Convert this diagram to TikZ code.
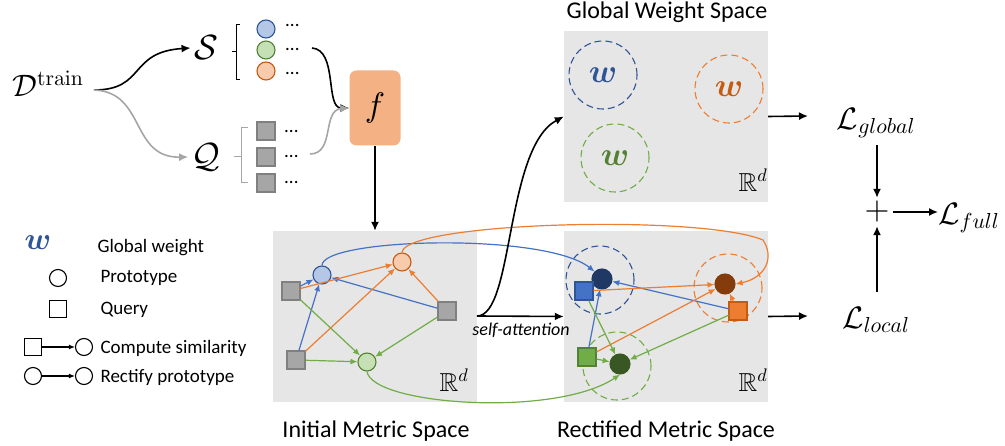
\documentclass[tikz,border=0pt]{standalone}
\usepackage{amsmath,amssymb,bm}
\usepackage[no-math]{fontspec}
\setmainfont{Carlito}
% make the math fonts freely scalable
\DeclareFontShape{OML}{cmm}{m}{it}{<->cmmi10}{}
\DeclareFontShape{OML}{cmm}{b}{it}{<->cmmib10}{}
\DeclareFontShape{OMS}{cmsy}{m}{n}{<->cmsy10}{}
\DeclareFontShape{OT1}{cmr}{m}{n}{<->cmr10}{}
\DeclareFontShape{OT1}{cmr}{bx}{n}{<->cmbx10}{}
\DeclareFontFamily{U}{msb}{}
\DeclareFontShape{U}{msb}{m}{n}{<->msbm10}{}
\usetikzlibrary{arrows.meta}
\definecolor{cblue}{RGB}{68,114,196}
\definecolor{corange}{RGB}{237,125,49}
\definecolor{cgreen}{RGB}{112,173,71}
\definecolor{dblue}{RGB}{47,85,151}
\definecolor{dorange}{RGB}{197,90,17}
\definecolor{dgreen}{RGB}{84,130,53}
\definecolor{fblue}{RGB}{180,199,231}
\definecolor{fgreen}{RGB}{197,224,180}
\definecolor{forange}{RGB}{248,203,173}
\definecolor{nblue}{RGB}{31,56,100}
\definecolor{norange}{RGB}{132,60,12}
\definecolor{ngreen}{RGB}{56,87,35}
\definecolor{qgray}{RGB}{166,166,166}
\definecolor{qedge}{RGB}{128,128,128}
\definecolor{panel}{RGB}{230,230,230}
\definecolor{fbox}{RGB}{244,177,131}
\newcommand{\fs}[1]{\fontsize{#1}{#1}\selectfont}
\tikzset{
  panelbox/.style={fill=panel,draw=none},
  proto/.style={circle,minimum size=18pt,inner sep=0pt,line width=1.1pt},
  qry/.style={rectangle,minimum size=18pt,inner sep=0pt,line width=1.1pt},
  grayq/.style={qry,fill=qgray,draw=qedge},
  wring/.style={circle,minimum size=68pt,inner sep=0pt,dashed,dash pattern=on 7pt off 4pt,line width=1.1pt},
  lnk/.style={line width=1.2pt,-{Latex[length=7pt,width=6pt]}},
  blk/.style={line width=1.6pt,-{Latex[length=9pt,width=8pt]}},
  gry/.style={line width=1.6pt,draw=qgray,-{Latex[length=9pt,width=8pt]}},
  caption/.style={font=\fs{24}},
  legtext/.style={font=\fs{19},anchor=west},
  dots/.style={font=\fs{19},anchor=west,inner sep=0pt},
}
\begin{document}
\begin{tikzpicture}[x=1pt,y=-1pt]
\useasboundingbox (0,0) rectangle (1005,446);

% ---------- input branch ----------
\node (D) at (48,84) {\fs{31}$\mathcal{D}^{\mathrm{train}}$};
\node (S) at (206,48) {\fs{35}$\mathcal{S}$};
\node (Q) at (206,157) {\fs{35}$\mathcal{Q}$};
\coordinate (Dout) at (94,90);
\draw[blk] (Dout) .. controls (146,90) and (128,52) .. (S.west);
\draw[gry] (Dout) .. controls (146,92) and (130,158) .. (Q.west);

% support set
\draw[line width=1pt] (240,25) -- (236,25) -- (236,80) -- (240,80) (236,52) -- (232,52);
\node[proto,fill=fblue,draw=dblue] (s1) at (266,29) {};
\node[proto,fill=fgreen,draw=dgreen] (s2) at (266,50) {};
\node[proto,fill=forange,draw=dorange] (s3) at (266,71) {};
\node[dots] (sd1) at (285,26) {...};
\node[dots] (sd2) at (285,50) {...};
\node[dots] (sd3) at (285,74) {...};

% query set
\draw[line width=1pt,draw=qgray] (248,128) -- (241,128) -- (241,183) -- (248,183) (241,157) -- (234,157);
\node[grayq] (q1) at (266,131) {};
\node[grayq] (q2) at (266,157) {};
\node[grayq] (q3) at (266,183) {};
\node[dots] (qd1) at (284,132) {...};
\node[dots] (qd2) at (284,157) {...};
\node[dots] (qd3) at (284,183) {...};

% encoder
\node[fill=fbox,rounded corners=7pt,minimum width=51pt,minimum height=75pt] (f) at (375,108) {\fs{34}$f$};
\draw[blk] (312,48) .. controls (338,50) and (325,108) .. (f.west);
\draw[gry] (310,154) .. controls (335,154) and (322,110) .. (f.west);

% ---------- initial metric space ----------
\node[panelbox,minimum width=204pt,minimum height=171pt,inner sep=0pt] (ims) at (375,316.5) {};
\node[caption] (imsl) at (376,431) {Initial Metric Space};
\draw[blk] (f.south) -- (ims.north);
\node[font=\fs{26}] (ird) at (454,380) {$\mathbb{R}^d$};

\node[proto,fill=fblue,draw=dblue] (ib) at (322,275) {};
\node[proto,fill=forange,draw=dorange] (io) at (402,262) {};
\node[proto,fill=fgreen,draw=dgreen] (ig) at (367,362) {};
\node[grayq] (iq1) at (291,291) {};
\node[grayq] (iq2) at (447,311) {};
\node[grayq] (iq3) at (296,360) {};

\draw[lnk,cblue] (iq3) -- (ib);
\draw[lnk,cblue] (iq2) -- (ib);
\draw[lnk,cblue] (iq1) -- (ib);
\draw[lnk,corange] (iq1) -- (io);
\draw[lnk,corange] (iq3) -- (io);
\draw[lnk,corange] (iq2) -- (io);
\draw[lnk,cgreen] (iq1) -- (ig);
\draw[lnk,cgreen] (iq3) -- (ig);
\draw[lnk,cgreen] (iq2) -- (ig);

% ---------- global weight space ----------
\node[panelbox,minimum width=204pt,minimum height=171pt,inner sep=0pt] (gws) at (666,116.5) {};
\node[caption] (gwsl) at (667,12) {Global Weight Space};
\node[font=\fs{26}] (grd) at (753,180) {$\mathbb{R}^d$};
\node[wring,draw=dblue] (gwb) at (603,75) {};
\node[wring,draw=corange] (gwo) at (729,89) {};
\node[wring,draw=cgreen] (gwg) at (615,158) {};
\node[text=dblue] at (gwb) {\fs{33}$\bm{w}$};
\node[text=dorange] at (gwo) {\fs{33}$\bm{w}$};
\node[text=dgreen] at (gwg) {\fs{33}$\bm{w}$};

% ---------- rectified metric space ----------
\node[panelbox,minimum width=204pt,minimum height=171pt,inner sep=0pt] (rms) at (666,316.5) {};
\node[caption] (rmsl) at (666,431) {Rectified Metric Space};
\node[font=\fs{26}] (rrd) at (753,380) {$\mathbb{R}^d$};
\node[wring,draw=dblue] (rwb) at (600,280) {};
\node[wring,draw=corange] (rwo) at (728,288) {};
\node[wring,draw=cgreen] (rwg) at (617,366) {};

\node[proto,fill=nblue,draw=nblue,minimum size=20pt] (rb) at (602,279) {};
\node[proto,fill=norange,draw=norange,minimum size=20pt] (ro) at (725,284) {};
\node[proto,fill=ngreen,draw=ngreen,minimum size=20pt] (rg) at (620,364) {};
\node[qry,fill=cblue,draw=dblue] (rqb) at (584,291) {};
\node[qry,fill=corange,draw=dorange] (rqo) at (738,311) {};
\node[qry,fill=cgreen,draw=dgreen] (rqg) at (587,357) {};

\draw[lnk,cblue] (rqg) -- (rb);
\draw[lnk,cblue] (rqo) -- (rb);
\draw[lnk,corange] (rqb) -- (ro);
\draw[lnk,corange] (rqg) -- (ro);
\draw[lnk,corange] (rqo) -- (ro);
\draw[lnk,cgreen] (rqb) -- (rg);
\draw[lnk,cgreen] (rqg) -- (rg);
\draw[lnk,cgreen] (rqo) -- (rg);

% prototype rectification
\draw[lnk,cblue] (ib.north) .. controls (322,238) and (545,232) .. (rb.north west);
\draw[lnk,corange] (io.north) .. controls (405,222) and (700,214) .. (763,240)
   .. controls (775,258) and (765,278) .. (ro.east);
\draw[lnk,cgreen] (ig.south) .. controls (372,405) and (555,418) .. (rg.south);

% self-attention
\coordinate (sa) at (477,316);
\draw[blk] (sa) -- (rms.west);
\draw[blk] (sa) .. controls (514,316) and (505,148) .. (gws.west);
\node[font=\fs{18}\itshape] (sal) at (521,330) {self-attention};

% ---------- losses ----------
\node (lg) at (876,123) {\fs{31}$\mathcal{L}_{global}$};
\node (ll) at (876,320) {\fs{31}$\mathcal{L}_{local}$};
\node (plus) at (877,212) {\fs{32}$+$};
\node[anchor=west,inner sep=0pt] (lf) at (938,218) {\fs{31}$\mathcal{L}_{full}$};
\draw[blk] (gws.east) -- (808,116);
\draw[blk] (rms.east) -- (808,316);
\draw[blk] (877,145) -- (plus.north);
\draw[blk] (877,292) -- (plus.south);
\draw[blk] (plus.east) -- (plus.east -| lf.west);

% ---------- legend ----------
\node[text=dblue] (lw) at (38,243) {\fs{31}$\bm{w}$};
\node[legtext] (lwt) at (94,248) {Global weight};
\node[proto,draw=black,minimum size=17pt] (lp) at (58,278) {};
\node[legtext] (lpt) at (97,278) {Prototype};
\node[qry,draw=black,minimum size=17pt] (lq) at (58,309) {};
\node[legtext] (lqt) at (97,310) {Query};
\node[qry,draw=black,minimum size=17pt] (la1) at (33,347) {};
\node[proto,draw=black,minimum size=17pt] (la2) at (84,347) {};
\draw[line width=1.1pt,-{Latex[length=6pt,width=5pt]}] (la1) -- (la2);
\node[legtext] (lat) at (97,348) {Compute similarity};
\node[proto,draw=black,minimum size=17pt] (lb1) at (33,376) {};
\node[proto,draw=black,minimum size=17pt] (lb2) at (84,376) {};
\draw[line width=1.1pt,-{Latex[length=6pt,width=5pt]}] (lb1) -- (lb2);
\node[legtext] (lbt) at (97,377) {Rectify prototype};
\end{tikzpicture}
\end{document}
